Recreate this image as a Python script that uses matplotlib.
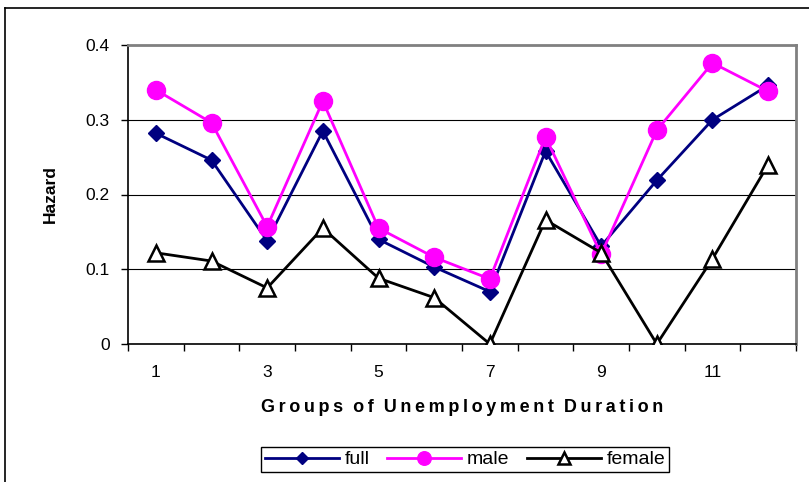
import numpy as np
import matplotlib.pyplot as plt
from matplotlib.lines import Line2D

plt.rcParams['font.family'] = ['Liberation Sans', 'DejaVu Sans']

groups = np.arange(1, 13)
full = [0.282, 0.246, 0.138, 0.285, 0.140, 0.103, 0.070, 0.258, 0.131, 0.219, 0.300, 0.346]
male = [0.340, 0.296, 0.157, 0.325, 0.155, 0.116, 0.087, 0.277, 0.120, 0.286, 0.376, 0.338]
female = [0.122, 0.111, 0.075, 0.155, 0.088, 0.062, 0.0, 0.166, 0.122, 0.0, 0.114, 0.240]
xtick_labels = ['1', '3', '5', '7', '9', '11']
xlabel = 'Groups of Unemployment Duration'

fig = plt.figure(figsize=(8.09, 4.82), dpi=100)
ax = fig.add_axes([128/809, 1 - 344/482, 668/809, 299/482])

ax.plot(groups, full, color='#000080', lw=2, marker='D', ms=8, label='full', zorder=3)
ax.plot(groups, male, color='#ff00ff', lw=2, marker='o', ms=13, label='male', zorder=4)
ax.plot(groups, female, color='black', lw=2, marker='^', ms=11, mfc='white',
        mec='black', mew=1.8, label='female', zorder=5)

ax.set_xlim(0.5, 12.5)
ax.set_ylim(0, 0.4)
ax.set_yticks([0, 0.1, 0.2, 0.3, 0.4])
ax.set_yticklabels(['0', '0.1', '0.2', '0.3', '0.4'])
ax.set_xticks(np.arange(1, 13, 2))
ax.set_xticklabels(xtick_labels)
ax.set_xticks(np.arange(0.5, 13, 1), minor=True)
ax.tick_params(axis='x', which='major', length=0, labelsize=12.5, pad=15)
ax.tick_params(axis='x', which='minor', length=5, width=1, direction='out')
ax.tick_params(axis='y', length=5, width=1, labelsize=12.5, pad=8)
ax.yaxis.grid(True, color='black', lw=0.8)
ax.set_axisbelow(True)

for side in ['top', 'right']:
    ax.spines[side].set_color('#808080')
    ax.spines[side].set_linewidth(2)
ax.spines['left'].set_linewidth(1.2)
ax.spines['bottom'].set_linewidth(1.2)

# letter-spaced axis title, like the original
spaced = '  '.join('\u2009'.join(w) for w in xlabel.split(' '))
ax.set_xlabel(spaced, fontsize=13, fontweight='bold', labelpad=14)
ax.set_ylabel('Hazard', fontsize=12.5, fontweight='bold', labelpad=20)

fig.legend(loc='lower center', bbox_to_anchor=(0.575, 0.0), ncol=3, fontsize=14,
           frameon=True, fancybox=False, edgecolor='black', framealpha=1,
           handlelength=3.8, columnspacing=0.9, handletextpad=0.3, borderpad=0.2,
           markerscale=0.75)

# outer chart border
fig.add_artist(Line2D([5/809, 5/809], [0, 1 - 8/482], color='black', lw=1.2,
                      transform=fig.transFigure))
fig.add_artist(Line2D([5/809, 1], [1 - 8/482, 1 - 8/482], color='black', lw=1.2,
                      transform=fig.transFigure))

fig.savefig('out.png', dpi=100)
